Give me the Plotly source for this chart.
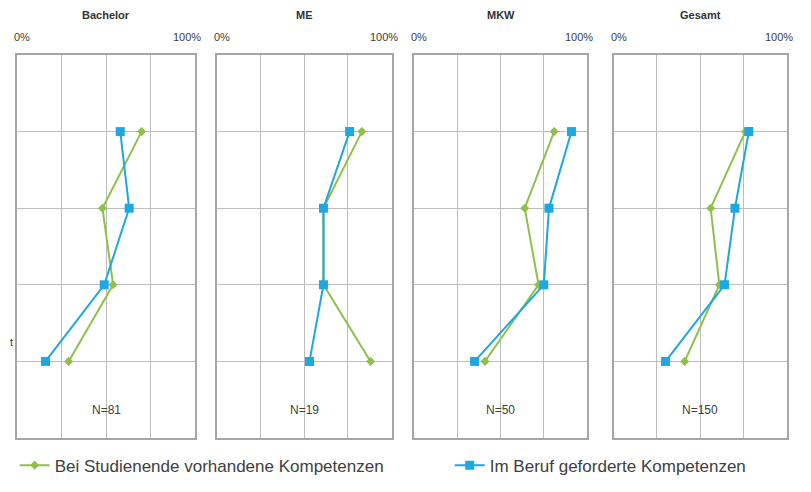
import plotly.graph_objects as go

panels = ["Bachelor", "ME", "MKW", "Gesamt"]
sample_sizes = ["N=81", "N=19", "N=50", "N=150"]
rows = [1, 2, 3, 4]

# values in percent, rows from top to bottom
vorhanden = {
    "Bachelor": [70, 48, 54, 29],
    "ME": [83, 61, 61, 88],
    "MKW": [81, 64, 72, 41],
    "Gesamt": [76, 56, 61, 41],
}
gefordert = {
    "Bachelor": [58, 63, 49, 16],
    "ME": [76, 61, 61, 53],
    "MKW": [91, 78, 75, 35],
    "Gesamt": [78, 70, 64, 30],
}

series_names = ["Bei Studienende vorhandene Kompetenzen", "Im Beruf geforderte Kompetenzen"]
x_ticks = [0, 25, 50, 75, 100]
x_tick_labels = ["0%", "100%"]

GREEN = "#8FC04C"
BLUE = "#1FA7E0"
GRID = "#BDBDBD"
TXT = "#404040"

domains = [(0.0, 0.2312), (0.2597, 0.4864), (0.5156, 0.7403), (0.7747, 1.0)]

fig = go.Figure()
for i, p in enumerate(panels):
    xa = "x" if i == 0 else f"x{i+1}"
    ya = "y" if i == 0 else f"y{i+1}"
    fig.add_trace(go.Scatter(
        x=vorhanden[p], y=rows, xaxis=xa, yaxis=ya, mode="lines+markers",
        name=series_names[0], legend="legend", showlegend=(i == 0),
        line=dict(color=GREEN, width=2),
        marker=dict(symbol="diamond", size=7, color=GREEN),
    ))
    fig.add_trace(go.Scatter(
        x=gefordert[p], y=rows, xaxis=xa, yaxis=ya, mode="lines+markers",
        name=series_names[1], legend="legend2", showlegend=(i == 0),
        line=dict(color=BLUE, width=2),
        marker=dict(symbol="square", size=9, color=BLUE),
    ))
    axn = "" if i == 0 else str(i + 1)
    fig.layout["xaxis" + axn] = dict(
        domain=list(domains[i]), range=[0, 100], anchor=ya,
        tickvals=x_ticks, showticklabels=False, ticks="",
        showgrid=True, gridcolor=GRID, gridwidth=1, zeroline=False,
        showline=True, linecolor="#A6A6A6", linewidth=1.5, mirror=True,
        fixedrange=True,
    )
    fig.layout["yaxis" + axn] = dict(
        domain=[0, 1], range=[5, 0], anchor=xa,
        tickvals=[0, 1, 2, 3, 4, 5], showticklabels=False, ticks="",
        showgrid=True, gridcolor=GRID, gridwidth=1, zeroline=False,
        showline=True, linecolor="#A6A6A6", linewidth=1.5, mirror=True,
    )
    # panel title
    fig.add_annotation(x=50, y=1.0, xref=xa, yref="paper", yshift=40,
                       text=f"<b>{p}</b>", showarrow=False,
                       font=dict(size=11, color="#333333", family="Liberation Sans"),
                       yanchor="middle")
    # axis end labels
    fig.add_annotation(x=x_ticks[0], y=1.0, xref=xa, yref="paper", yshift=18,
                       xshift=-5, xanchor="left", text=x_tick_labels[0], showarrow=False,
                       font=dict(size=11, color=TXT, family="Liberation Sans"), yanchor="middle")
    fig.add_annotation(x=x_ticks[-1], y=1.0, xref=xa, yref="paper", yshift=18,
                       xshift=8, xanchor="right", text=x_tick_labels[1], showarrow=False,
                       font=dict(size=11, color=TXT, family="Liberation Sans"), yanchor="middle")
    # sample size
    fig.add_annotation(x=50, y=4.63, xref=xa, yref=ya, text=sample_sizes[i],
                       showarrow=False, font=dict(size=12, color=TXT, family="Liberation Sans"))

# cropped category label remnant on the left edge
fig.add_annotation(x=0, y=3.75, xref="paper", yref="y", xshift=-2, text="t",
                   showarrow=False, xanchor="right",
                   font=dict(size=11, color=TXT, family="Liberation Sans"))

leg_font = dict(size=17, color=TXT, family="Liberation Sans")
fig.update_layout(
    width=803, height=484,
    margin=dict(l=9, r=24, t=47, b=54, autoexpand=False),
    paper_bgcolor="white", plot_bgcolor="white",
    font=dict(family="Liberation Sans", color=TXT),
    legend=dict(orientation="h", x=-0.003, xanchor="left", y=-0.072, yanchor="middle",
                font=leg_font, bgcolor="rgba(0,0,0,0)"),
    legend2=dict(orientation="h", x=0.562, xanchor="left", y=-0.072, yanchor="middle",
                 font=leg_font, bgcolor="rgba(0,0,0,0)"),
)

fig.write_html("out.html")
